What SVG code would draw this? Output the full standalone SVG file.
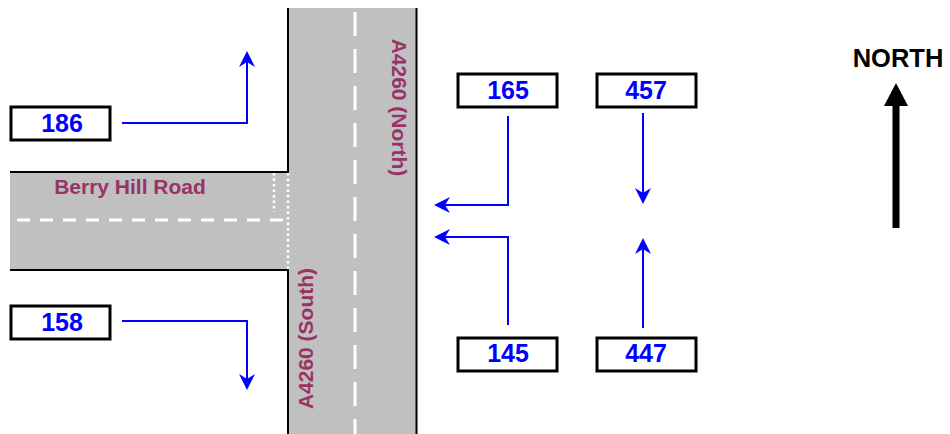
<svg xmlns="http://www.w3.org/2000/svg" width="950" height="434" viewBox="0 0 950 434">
<defs>
<style>
.road{fill:#c0c0c0;stroke:none}
.edge{stroke:#000;stroke-width:2;fill:none}
.dash{stroke:#fff;stroke-width:3;fill:none}
.dot{stroke:#fff;stroke-width:2.5;stroke-dasharray:2.5 3;fill:none}
.rlabel{font-family:"Liberation Sans",Arial,sans-serif;font-weight:bold;font-size:21px;fill:#993366}
.box{fill:#fff;stroke:#000;stroke-width:3}
.num{font-family:"Liberation Sans",Arial,sans-serif;font-weight:bold;font-size:25px;fill:#0000ff;text-anchor:middle}
.flow{stroke:#0000ff;stroke-width:2;fill:none;marker-end:url(#ah)}
</style>
<marker id="ah" viewBox="0 0 16 16" refX="14" refY="8" markerWidth="16" markerHeight="16" markerUnits="userSpaceOnUse" orient="auto">
<path d="M0,0 L16,8 L0,16 L5,8 Z" fill="#0000ff"/>
</marker>
</defs>
<g id="roads">
<rect class="road" x="288" y="8" width="129" height="426"/>
<rect class="road" x="10" y="172" width="280" height="98"/>
<path class="edge" d="M10,172 H288 V8"/>
<path class="edge" d="M10,270 H288 V434"/>
<path class="edge" d="M416.5,8 V434"/>
<path class="dash" d="M355,12 V434" stroke-dasharray="24 13"/>
<path class="dash" d="M17,220 H288" stroke-dasharray="13 10"/>
<path class="dot" d="M274,173 V212"/>
<path class="dot" d="M288,173 V270"/>
<text class="rlabel" x="130" y="194" text-anchor="middle">Berry Hill Road</text>
<text class="rlabel" text-anchor="middle" transform="translate(392,107.5) rotate(90)">A4260 (North)</text>
<text class="rlabel" text-anchor="middle" transform="translate(313,338.5) rotate(-90)">A4260 (South)</text>
</g>
<g id="connectors">
<path class="flow" d="M122,123 H247 V53"/>
<path class="flow" d="M122,321 H247 V388"/>
<path class="flow" d="M508,116 V205 H436"/>
<path class="flow" d="M508,325 V237 H436"/>
<path class="flow" d="M643,113 V202"/>
<path class="flow" d="M643,328 V240"/>
</g>
<g id="n186"><rect class="box" x="11" y="107" width="99" height="33"/><text class="num" x="62" y="132">186</text></g>
<g id="n158"><rect class="box" x="11" y="306" width="99" height="33"/><text class="num" x="62" y="331">158</text></g>
<g id="n165"><rect class="box" x="458" y="74" width="99" height="33"/><text class="num" x="508" y="99">165</text></g>
<g id="n457"><rect class="box" x="597" y="74" width="99" height="33"/><text class="num" x="646" y="99">457</text></g>
<g id="n145"><rect class="box" x="458" y="338" width="99" height="33"/><text class="num" x="508" y="362">145</text></g>
<g id="n447"><rect class="box" x="597" y="338" width="99" height="33"/><text class="num" x="646" y="362">447</text></g>
<g id="north">
<text x="898" y="67" text-anchor="middle" font-family="'Liberation Sans',Arial,sans-serif" font-weight="bold" font-size="25.5" fill="#000">NORTH</text>
<rect x="892.5" y="104" width="7" height="124" fill="#000"/>
<path d="M884,106 L896,83 L908,106 Z" fill="#000"/>
</g>
</svg>
